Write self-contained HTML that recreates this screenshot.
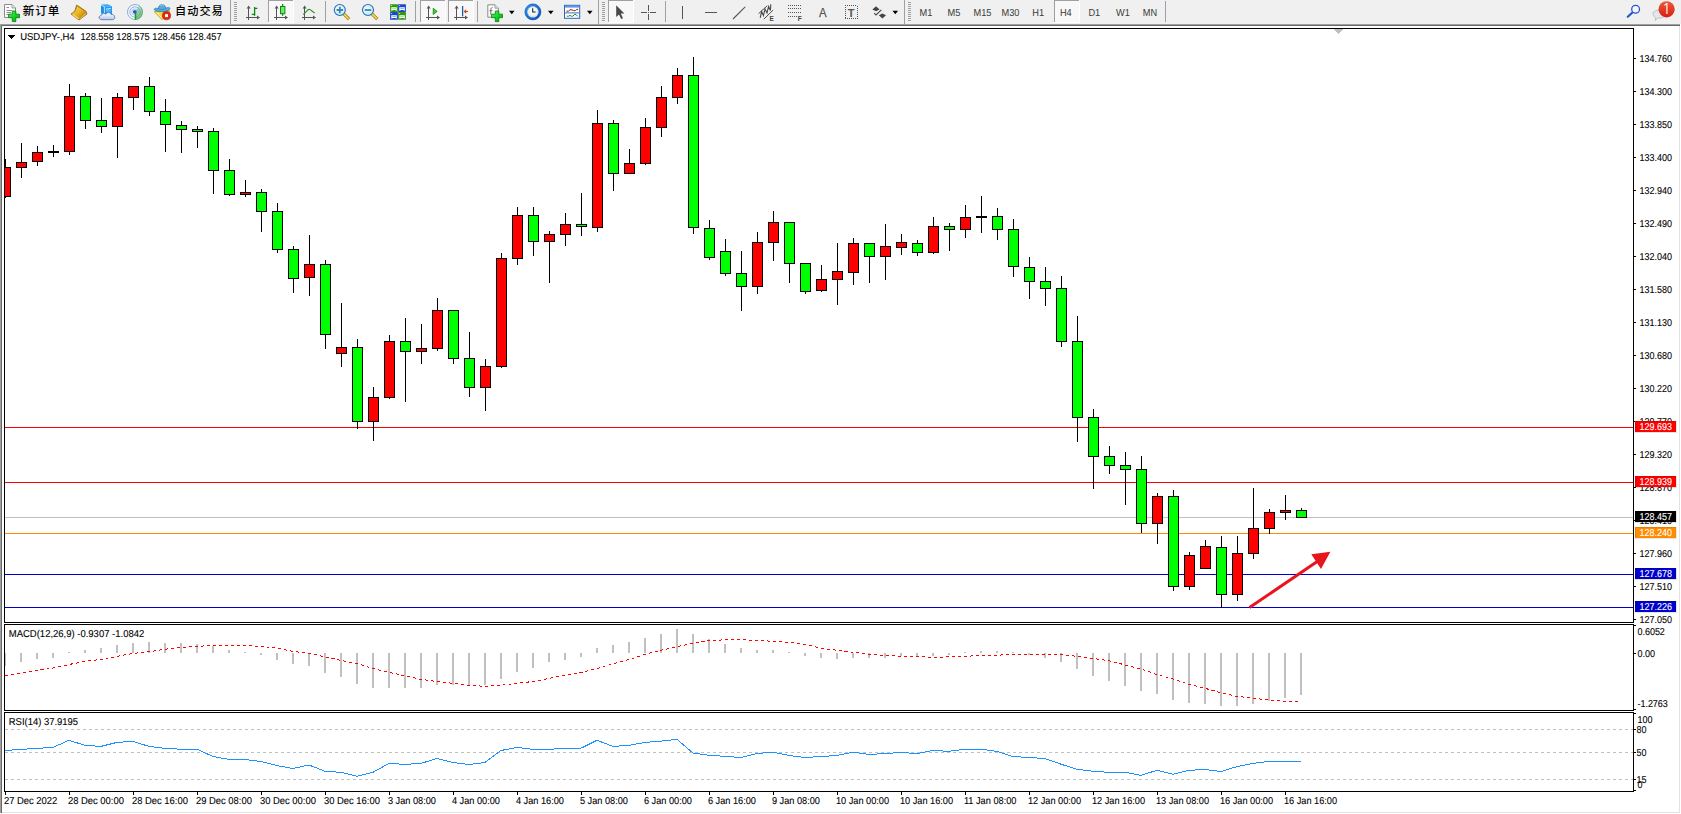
<!DOCTYPE html>
<html lang="zh-CN">
<head>
<meta charset="utf-8">
<title>USDJPY-,H4</title>
<style>
html,body{margin:0;padding:0;background:#f0f0f0;}
body{width:1681px;height:814px;overflow:hidden;position:relative;font-family:"Liberation Sans", sans-serif;}
svg{position:absolute;left:0;top:0;display:block;}
svg text{white-space:pre;}
</style>
</head>
<body>
<svg width="1681" height="814" viewBox="0 0 1681 814">
<defs>
<clipPath id="mainclip"><rect x="5" y="29" width="1628" height="593"/></clipPath>
<clipPath id="macdclip"><rect x="5" y="625" width="1628" height="85"/></clipPath>
</defs>
<g shape-rendering="crispEdges">
<rect x="0" y="0" width="1681" height="814" fill="#f0f0f0"/>
<rect x="0" y="24" width="1680" height="1" fill="#a0a0a0"/>
<rect x="0" y="24" width="1" height="789" fill="#a0a0a0"/>
<rect x="1" y="25" width="1679" height="1" fill="#696969"/>
<rect x="1" y="25" width="1" height="788" fill="#696969"/>
<rect x="2" y="26" width="1678" height="787" fill="#ffffff"/>
<rect x="1679" y="26" width="1" height="787" fill="#e3e3e3"/>
<rect x="2" y="812" width="1678" height="1" fill="#e3e3e3"/>
<rect x="1680" y="24" width="1" height="790" fill="#ffffff"/>
<rect x="0" y="813" width="1681" height="1" fill="#ffffff"/>
</g>
<g shape-rendering="crispEdges">
<rect x="5" y="517" width="1628" height="1" fill="#c0c0c0"/>
<rect x="5" y="427" width="1628" height="1" fill="#ff0000"/>
<rect x="5" y="482" width="1628" height="1" fill="#ff0000"/>
<rect x="5" y="533" width="1628" height="1" fill="#ff8c00"/>
<rect x="5" y="574" width="1628" height="1" fill="#0000cd"/>
<rect x="5" y="607" width="1628" height="1" fill="#0000cd"/>
<g clip-path="url(#mainclip)">
<rect x="5" y="159" width="1" height="39" fill="#000"/>
<rect x="0" y="167" width="11" height="30" fill="#000"/>
<rect x="1" y="168" width="9" height="28" fill="#ff0000"/>
<rect x="21" y="143" width="1" height="35" fill="#000"/>
<rect x="16" y="162" width="11" height="6" fill="#000"/>
<rect x="17" y="163" width="9" height="4" fill="#ff0000"/>
<rect x="37" y="146" width="1" height="20" fill="#000"/>
<rect x="32" y="152" width="11" height="10" fill="#000"/>
<rect x="33" y="153" width="9" height="8" fill="#ff0000"/>
<rect x="53" y="145" width="1" height="12" fill="#000"/>
<rect x="48" y="151" width="11" height="2" fill="#000"/>
<rect x="69" y="84" width="1" height="71" fill="#000"/>
<rect x="64" y="96" width="11" height="56" fill="#000"/>
<rect x="65" y="97" width="9" height="54" fill="#ff0000"/>
<rect x="85" y="93" width="1" height="36" fill="#000"/>
<rect x="80" y="96" width="11" height="25" fill="#000"/>
<rect x="81" y="97" width="9" height="23" fill="#00ff00"/>
<rect x="101" y="98" width="1" height="35" fill="#000"/>
<rect x="96" y="120" width="11" height="7" fill="#000"/>
<rect x="97" y="121" width="9" height="5" fill="#00ff00"/>
<rect x="117" y="93" width="1" height="65" fill="#000"/>
<rect x="112" y="97" width="11" height="30" fill="#000"/>
<rect x="113" y="98" width="9" height="28" fill="#ff0000"/>
<rect x="133" y="86" width="1" height="24" fill="#000"/>
<rect x="128" y="86" width="11" height="12" fill="#000"/>
<rect x="129" y="87" width="9" height="10" fill="#ff0000"/>
<rect x="149" y="77" width="1" height="39" fill="#000"/>
<rect x="144" y="86" width="11" height="26" fill="#000"/>
<rect x="145" y="87" width="9" height="24" fill="#00ff00"/>
<rect x="165" y="99" width="1" height="53" fill="#000"/>
<rect x="160" y="111" width="11" height="14" fill="#000"/>
<rect x="161" y="112" width="9" height="12" fill="#00ff00"/>
<rect x="181" y="121" width="1" height="32" fill="#000"/>
<rect x="176" y="125" width="11" height="5" fill="#000"/>
<rect x="177" y="126" width="9" height="3" fill="#00ff00"/>
<rect x="197" y="126" width="1" height="22" fill="#000"/>
<rect x="192" y="129" width="11" height="3" fill="#000"/>
<rect x="193" y="130" width="9" height="1" fill="#00ff00"/>
<rect x="213" y="128" width="1" height="66" fill="#000"/>
<rect x="208" y="131" width="11" height="40" fill="#000"/>
<rect x="209" y="132" width="9" height="38" fill="#00ff00"/>
<rect x="229" y="159" width="1" height="37" fill="#000"/>
<rect x="224" y="170" width="11" height="25" fill="#000"/>
<rect x="225" y="171" width="9" height="23" fill="#00ff00"/>
<rect x="245" y="180" width="1" height="17" fill="#000"/>
<rect x="240" y="192" width="11" height="3" fill="#000"/>
<rect x="241" y="193" width="9" height="1" fill="#ff0000"/>
<rect x="261" y="189" width="1" height="43" fill="#000"/>
<rect x="256" y="192" width="11" height="20" fill="#000"/>
<rect x="257" y="193" width="9" height="18" fill="#00ff00"/>
<rect x="277" y="203" width="1" height="50" fill="#000"/>
<rect x="272" y="211" width="11" height="39" fill="#000"/>
<rect x="273" y="212" width="9" height="37" fill="#00ff00"/>
<rect x="293" y="246" width="1" height="47" fill="#000"/>
<rect x="288" y="249" width="11" height="30" fill="#000"/>
<rect x="289" y="250" width="9" height="28" fill="#00ff00"/>
<rect x="309" y="235" width="1" height="61" fill="#000"/>
<rect x="304" y="264" width="11" height="14" fill="#000"/>
<rect x="305" y="265" width="9" height="12" fill="#ff0000"/>
<rect x="325" y="260" width="1" height="89" fill="#000"/>
<rect x="320" y="264" width="11" height="71" fill="#000"/>
<rect x="321" y="265" width="9" height="69" fill="#00ff00"/>
<rect x="341" y="303" width="1" height="64" fill="#000"/>
<rect x="336" y="347" width="11" height="7" fill="#000"/>
<rect x="337" y="348" width="9" height="5" fill="#ff0000"/>
<rect x="357" y="339" width="1" height="90" fill="#000"/>
<rect x="352" y="347" width="11" height="75" fill="#000"/>
<rect x="353" y="348" width="9" height="73" fill="#00ff00"/>
<rect x="373" y="387" width="1" height="54" fill="#000"/>
<rect x="368" y="397" width="11" height="25" fill="#000"/>
<rect x="369" y="398" width="9" height="23" fill="#ff0000"/>
<rect x="389" y="335" width="1" height="64" fill="#000"/>
<rect x="384" y="341" width="11" height="57" fill="#000"/>
<rect x="385" y="342" width="9" height="55" fill="#ff0000"/>
<rect x="405" y="318" width="1" height="84" fill="#000"/>
<rect x="400" y="341" width="11" height="11" fill="#000"/>
<rect x="401" y="342" width="9" height="9" fill="#00ff00"/>
<rect x="421" y="324" width="1" height="40" fill="#000"/>
<rect x="416" y="348" width="11" height="4" fill="#000"/>
<rect x="417" y="349" width="9" height="2" fill="#ff0000"/>
<rect x="437" y="298" width="1" height="53" fill="#000"/>
<rect x="432" y="310" width="11" height="39" fill="#000"/>
<rect x="433" y="311" width="9" height="37" fill="#ff0000"/>
<rect x="453" y="310" width="1" height="54" fill="#000"/>
<rect x="448" y="310" width="11" height="49" fill="#000"/>
<rect x="449" y="311" width="9" height="47" fill="#00ff00"/>
<rect x="469" y="332" width="1" height="65" fill="#000"/>
<rect x="464" y="358" width="11" height="30" fill="#000"/>
<rect x="465" y="359" width="9" height="28" fill="#00ff00"/>
<rect x="485" y="359" width="1" height="52" fill="#000"/>
<rect x="480" y="366" width="11" height="22" fill="#000"/>
<rect x="481" y="367" width="9" height="20" fill="#ff0000"/>
<rect x="501" y="253" width="1" height="115" fill="#000"/>
<rect x="496" y="258" width="11" height="109" fill="#000"/>
<rect x="497" y="259" width="9" height="107" fill="#ff0000"/>
<rect x="517" y="207" width="1" height="58" fill="#000"/>
<rect x="512" y="215" width="11" height="44" fill="#000"/>
<rect x="513" y="216" width="9" height="42" fill="#ff0000"/>
<rect x="533" y="207" width="1" height="49" fill="#000"/>
<rect x="528" y="215" width="11" height="27" fill="#000"/>
<rect x="529" y="216" width="9" height="25" fill="#00ff00"/>
<rect x="549" y="231" width="1" height="52" fill="#000"/>
<rect x="544" y="234" width="11" height="8" fill="#000"/>
<rect x="545" y="235" width="9" height="6" fill="#ff0000"/>
<rect x="565" y="213" width="1" height="33" fill="#000"/>
<rect x="560" y="224" width="11" height="11" fill="#000"/>
<rect x="561" y="225" width="9" height="9" fill="#ff0000"/>
<rect x="581" y="193" width="1" height="43" fill="#000"/>
<rect x="576" y="224" width="11" height="3" fill="#000"/>
<rect x="577" y="225" width="9" height="1" fill="#00ff00"/>
<rect x="597" y="110" width="1" height="122" fill="#000"/>
<rect x="592" y="123" width="11" height="105" fill="#000"/>
<rect x="593" y="124" width="9" height="103" fill="#ff0000"/>
<rect x="613" y="120" width="1" height="71" fill="#000"/>
<rect x="608" y="123" width="11" height="51" fill="#000"/>
<rect x="609" y="124" width="9" height="49" fill="#00ff00"/>
<rect x="629" y="149" width="1" height="25" fill="#000"/>
<rect x="624" y="163" width="11" height="11" fill="#000"/>
<rect x="625" y="164" width="9" height="9" fill="#ff0000"/>
<rect x="645" y="118" width="1" height="47" fill="#000"/>
<rect x="640" y="127" width="11" height="37" fill="#000"/>
<rect x="641" y="128" width="9" height="35" fill="#ff0000"/>
<rect x="661" y="86" width="1" height="51" fill="#000"/>
<rect x="656" y="97" width="11" height="31" fill="#000"/>
<rect x="657" y="98" width="9" height="29" fill="#ff0000"/>
<rect x="677" y="68" width="1" height="36" fill="#000"/>
<rect x="672" y="75" width="11" height="23" fill="#000"/>
<rect x="673" y="76" width="9" height="21" fill="#ff0000"/>
<rect x="693" y="57" width="1" height="177" fill="#000"/>
<rect x="688" y="75" width="11" height="153" fill="#000"/>
<rect x="689" y="76" width="9" height="151" fill="#00ff00"/>
<rect x="709" y="220" width="1" height="40" fill="#000"/>
<rect x="704" y="228" width="11" height="30" fill="#000"/>
<rect x="705" y="229" width="9" height="28" fill="#00ff00"/>
<rect x="725" y="239" width="1" height="37" fill="#000"/>
<rect x="720" y="251" width="11" height="23" fill="#000"/>
<rect x="721" y="252" width="9" height="21" fill="#00ff00"/>
<rect x="741" y="251" width="1" height="60" fill="#000"/>
<rect x="736" y="273" width="11" height="14" fill="#000"/>
<rect x="737" y="274" width="9" height="12" fill="#00ff00"/>
<rect x="757" y="232" width="1" height="62" fill="#000"/>
<rect x="752" y="242" width="11" height="45" fill="#000"/>
<rect x="753" y="243" width="9" height="43" fill="#ff0000"/>
<rect x="773" y="211" width="1" height="50" fill="#000"/>
<rect x="768" y="222" width="11" height="21" fill="#000"/>
<rect x="769" y="223" width="9" height="19" fill="#ff0000"/>
<rect x="789" y="222" width="1" height="61" fill="#000"/>
<rect x="784" y="222" width="11" height="42" fill="#000"/>
<rect x="785" y="223" width="9" height="40" fill="#00ff00"/>
<rect x="805" y="263" width="1" height="31" fill="#000"/>
<rect x="800" y="263" width="11" height="29" fill="#000"/>
<rect x="801" y="264" width="9" height="27" fill="#00ff00"/>
<rect x="821" y="265" width="1" height="27" fill="#000"/>
<rect x="816" y="279" width="11" height="12" fill="#000"/>
<rect x="817" y="280" width="9" height="10" fill="#ff0000"/>
<rect x="837" y="243" width="1" height="62" fill="#000"/>
<rect x="832" y="271" width="11" height="9" fill="#000"/>
<rect x="833" y="272" width="9" height="7" fill="#ff0000"/>
<rect x="853" y="238" width="1" height="47" fill="#000"/>
<rect x="848" y="243" width="11" height="30" fill="#000"/>
<rect x="849" y="244" width="9" height="28" fill="#ff0000"/>
<rect x="869" y="243" width="1" height="40" fill="#000"/>
<rect x="864" y="243" width="11" height="14" fill="#000"/>
<rect x="865" y="244" width="9" height="12" fill="#00ff00"/>
<rect x="885" y="224" width="1" height="56" fill="#000"/>
<rect x="880" y="246" width="11" height="11" fill="#000"/>
<rect x="881" y="247" width="9" height="9" fill="#ff0000"/>
<rect x="901" y="234" width="1" height="21" fill="#000"/>
<rect x="896" y="242" width="11" height="6" fill="#000"/>
<rect x="897" y="243" width="9" height="4" fill="#ff0000"/>
<rect x="917" y="240" width="1" height="16" fill="#000"/>
<rect x="912" y="243" width="11" height="10" fill="#000"/>
<rect x="913" y="244" width="9" height="8" fill="#00ff00"/>
<rect x="933" y="217" width="1" height="37" fill="#000"/>
<rect x="928" y="226" width="11" height="27" fill="#000"/>
<rect x="929" y="227" width="9" height="25" fill="#ff0000"/>
<rect x="949" y="223" width="1" height="28" fill="#000"/>
<rect x="944" y="226" width="11" height="4" fill="#000"/>
<rect x="945" y="227" width="9" height="2" fill="#00ff00"/>
<rect x="965" y="205" width="1" height="33" fill="#000"/>
<rect x="960" y="217" width="11" height="13" fill="#000"/>
<rect x="961" y="218" width="9" height="11" fill="#ff0000"/>
<rect x="981" y="196" width="1" height="37" fill="#000"/>
<rect x="976" y="216" width="11" height="2" fill="#000"/>
<rect x="997" y="208" width="1" height="32" fill="#000"/>
<rect x="992" y="216" width="11" height="14" fill="#000"/>
<rect x="993" y="217" width="9" height="12" fill="#00ff00"/>
<rect x="1013" y="219" width="1" height="58" fill="#000"/>
<rect x="1008" y="229" width="11" height="38" fill="#000"/>
<rect x="1009" y="230" width="9" height="36" fill="#00ff00"/>
<rect x="1029" y="257" width="1" height="42" fill="#000"/>
<rect x="1024" y="267" width="11" height="15" fill="#000"/>
<rect x="1025" y="268" width="9" height="13" fill="#00ff00"/>
<rect x="1045" y="267" width="1" height="39" fill="#000"/>
<rect x="1040" y="281" width="11" height="8" fill="#000"/>
<rect x="1041" y="282" width="9" height="6" fill="#00ff00"/>
<rect x="1061" y="276" width="1" height="71" fill="#000"/>
<rect x="1056" y="288" width="11" height="54" fill="#000"/>
<rect x="1057" y="289" width="9" height="52" fill="#00ff00"/>
<rect x="1077" y="316" width="1" height="126" fill="#000"/>
<rect x="1072" y="341" width="11" height="77" fill="#000"/>
<rect x="1073" y="342" width="9" height="75" fill="#00ff00"/>
<rect x="1093" y="409" width="1" height="80" fill="#000"/>
<rect x="1088" y="417" width="11" height="40" fill="#000"/>
<rect x="1089" y="418" width="9" height="38" fill="#00ff00"/>
<rect x="1109" y="446" width="1" height="28" fill="#000"/>
<rect x="1104" y="456" width="11" height="10" fill="#000"/>
<rect x="1105" y="457" width="9" height="8" fill="#00ff00"/>
<rect x="1125" y="452" width="1" height="53" fill="#000"/>
<rect x="1120" y="465" width="11" height="5" fill="#000"/>
<rect x="1121" y="466" width="9" height="3" fill="#00ff00"/>
<rect x="1141" y="456" width="1" height="77" fill="#000"/>
<rect x="1136" y="469" width="11" height="55" fill="#000"/>
<rect x="1137" y="470" width="9" height="53" fill="#00ff00"/>
<rect x="1157" y="493" width="1" height="51" fill="#000"/>
<rect x="1152" y="496" width="11" height="28" fill="#000"/>
<rect x="1153" y="497" width="9" height="26" fill="#ff0000"/>
<rect x="1173" y="490" width="1" height="101" fill="#000"/>
<rect x="1168" y="496" width="11" height="91" fill="#000"/>
<rect x="1169" y="497" width="9" height="89" fill="#00ff00"/>
<rect x="1189" y="552" width="1" height="38" fill="#000"/>
<rect x="1184" y="555" width="11" height="32" fill="#000"/>
<rect x="1185" y="556" width="9" height="30" fill="#ff0000"/>
<rect x="1205" y="540" width="1" height="29" fill="#000"/>
<rect x="1200" y="546" width="11" height="23" fill="#000"/>
<rect x="1201" y="547" width="9" height="21" fill="#ff0000"/>
<rect x="1221" y="536" width="1" height="72" fill="#000"/>
<rect x="1216" y="547" width="11" height="48" fill="#000"/>
<rect x="1217" y="548" width="9" height="46" fill="#00ff00"/>
<rect x="1237" y="536" width="1" height="65" fill="#000"/>
<rect x="1232" y="553" width="11" height="42" fill="#000"/>
<rect x="1233" y="554" width="9" height="40" fill="#ff0000"/>
<rect x="1253" y="488" width="1" height="71" fill="#000"/>
<rect x="1248" y="528" width="11" height="26" fill="#000"/>
<rect x="1249" y="529" width="9" height="24" fill="#ff0000"/>
<rect x="1269" y="509" width="1" height="25" fill="#000"/>
<rect x="1264" y="512" width="11" height="17" fill="#000"/>
<rect x="1265" y="513" width="9" height="15" fill="#ff0000"/>
<rect x="1285" y="495" width="1" height="25" fill="#000"/>
<rect x="1280" y="510" width="11" height="3" fill="#000"/>
<rect x="1281" y="511" width="9" height="1" fill="#ff0000"/>
<rect x="1301" y="508" width="1" height="10" fill="#000"/>
<rect x="1296" y="510" width="11" height="8" fill="#000"/>
<rect x="1297" y="511" width="9" height="6" fill="#00ff00"/>
</g>
<rect x="1334" y="29" width="9" height="1" fill="#c0c0c0"/>
<rect x="1335" y="30" width="7" height="1" fill="#c0c0c0"/>
<rect x="1336" y="31" width="5" height="1" fill="#c0c0c0"/>
<rect x="1337" y="32" width="3" height="1" fill="#c0c0c0"/>
<rect x="1338" y="33" width="1" height="1" fill="#c0c0c0"/>
<rect x="4" y="653" width="2" height="13" fill="#c0c0c0" clip-path="url(#macdclip)"/>
<rect x="20" y="653" width="2" height="9" fill="#c0c0c0" clip-path="url(#macdclip)"/>
<rect x="36" y="653" width="2" height="6" fill="#c0c0c0" clip-path="url(#macdclip)"/>
<rect x="52" y="653" width="2" height="5" fill="#c0c0c0" clip-path="url(#macdclip)"/>
<rect x="68" y="652" width="2" height="1" fill="#c0c0c0" clip-path="url(#macdclip)"/>
<rect x="84" y="650" width="2" height="3" fill="#c0c0c0" clip-path="url(#macdclip)"/>
<rect x="100" y="648" width="2" height="5" fill="#c0c0c0" clip-path="url(#macdclip)"/>
<rect x="116" y="645" width="2" height="8" fill="#c0c0c0" clip-path="url(#macdclip)"/>
<rect x="132" y="643" width="2" height="10" fill="#c0c0c0" clip-path="url(#macdclip)"/>
<rect x="148" y="642" width="2" height="11" fill="#c0c0c0" clip-path="url(#macdclip)"/>
<rect x="164" y="643" width="2" height="10" fill="#c0c0c0" clip-path="url(#macdclip)"/>
<rect x="180" y="643" width="2" height="10" fill="#c0c0c0" clip-path="url(#macdclip)"/>
<rect x="196" y="644" width="2" height="9" fill="#c0c0c0" clip-path="url(#macdclip)"/>
<rect x="212" y="646" width="2" height="7" fill="#c0c0c0" clip-path="url(#macdclip)"/>
<rect x="228" y="650" width="2" height="3" fill="#c0c0c0" clip-path="url(#macdclip)"/>
<rect x="244" y="652" width="2" height="1" fill="#c0c0c0" clip-path="url(#macdclip)"/>
<rect x="260" y="653" width="2" height="2" fill="#c0c0c0" clip-path="url(#macdclip)"/>
<rect x="276" y="653" width="2" height="7" fill="#c0c0c0" clip-path="url(#macdclip)"/>
<rect x="292" y="653" width="2" height="11" fill="#c0c0c0" clip-path="url(#macdclip)"/>
<rect x="308" y="653" width="2" height="13" fill="#c0c0c0" clip-path="url(#macdclip)"/>
<rect x="324" y="653" width="2" height="20" fill="#c0c0c0" clip-path="url(#macdclip)"/>
<rect x="340" y="653" width="2" height="24" fill="#c0c0c0" clip-path="url(#macdclip)"/>
<rect x="356" y="653" width="2" height="31" fill="#c0c0c0" clip-path="url(#macdclip)"/>
<rect x="372" y="653" width="2" height="35" fill="#c0c0c0" clip-path="url(#macdclip)"/>
<rect x="388" y="653" width="2" height="35" fill="#c0c0c0" clip-path="url(#macdclip)"/>
<rect x="404" y="653" width="2" height="35" fill="#c0c0c0" clip-path="url(#macdclip)"/>
<rect x="420" y="653" width="2" height="35" fill="#c0c0c0" clip-path="url(#macdclip)"/>
<rect x="436" y="653" width="2" height="32" fill="#c0c0c0" clip-path="url(#macdclip)"/>
<rect x="452" y="653" width="2" height="32" fill="#c0c0c0" clip-path="url(#macdclip)"/>
<rect x="468" y="653" width="2" height="33" fill="#c0c0c0" clip-path="url(#macdclip)"/>
<rect x="484" y="653" width="2" height="32" fill="#c0c0c0" clip-path="url(#macdclip)"/>
<rect x="500" y="653" width="2" height="26" fill="#c0c0c0" clip-path="url(#macdclip)"/>
<rect x="516" y="653" width="2" height="19" fill="#c0c0c0" clip-path="url(#macdclip)"/>
<rect x="532" y="653" width="2" height="15" fill="#c0c0c0" clip-path="url(#macdclip)"/>
<rect x="548" y="653" width="2" height="9" fill="#c0c0c0" clip-path="url(#macdclip)"/>
<rect x="564" y="653" width="2" height="7" fill="#c0c0c0" clip-path="url(#macdclip)"/>
<rect x="580" y="653" width="2" height="4" fill="#c0c0c0" clip-path="url(#macdclip)"/>
<rect x="596" y="648" width="2" height="5" fill="#c0c0c0" clip-path="url(#macdclip)"/>
<rect x="612" y="645" width="2" height="8" fill="#c0c0c0" clip-path="url(#macdclip)"/>
<rect x="628" y="642" width="2" height="11" fill="#c0c0c0" clip-path="url(#macdclip)"/>
<rect x="644" y="638" width="2" height="15" fill="#c0c0c0" clip-path="url(#macdclip)"/>
<rect x="660" y="634" width="2" height="19" fill="#c0c0c0" clip-path="url(#macdclip)"/>
<rect x="676" y="629" width="2" height="24" fill="#c0c0c0" clip-path="url(#macdclip)"/>
<rect x="692" y="634" width="2" height="19" fill="#c0c0c0" clip-path="url(#macdclip)"/>
<rect x="708" y="639" width="2" height="14" fill="#c0c0c0" clip-path="url(#macdclip)"/>
<rect x="724" y="644" width="2" height="9" fill="#c0c0c0" clip-path="url(#macdclip)"/>
<rect x="740" y="648" width="2" height="5" fill="#c0c0c0" clip-path="url(#macdclip)"/>
<rect x="756" y="650" width="2" height="3" fill="#c0c0c0" clip-path="url(#macdclip)"/>
<rect x="772" y="650" width="2" height="3" fill="#c0c0c0" clip-path="url(#macdclip)"/>
<rect x="788" y="652" width="2" height="1" fill="#c0c0c0" clip-path="url(#macdclip)"/>
<rect x="804" y="653" width="2" height="3" fill="#c0c0c0" clip-path="url(#macdclip)"/>
<rect x="820" y="653" width="2" height="5" fill="#c0c0c0" clip-path="url(#macdclip)"/>
<rect x="836" y="653" width="2" height="6" fill="#c0c0c0" clip-path="url(#macdclip)"/>
<rect x="852" y="653" width="2" height="5" fill="#c0c0c0" clip-path="url(#macdclip)"/>
<rect x="868" y="653" width="2" height="5" fill="#c0c0c0" clip-path="url(#macdclip)"/>
<rect x="884" y="653" width="2" height="5" fill="#c0c0c0" clip-path="url(#macdclip)"/>
<rect x="900" y="653" width="2" height="3" fill="#c0c0c0" clip-path="url(#macdclip)"/>
<rect x="916" y="653" width="2" height="3" fill="#c0c0c0" clip-path="url(#macdclip)"/>
<rect x="932" y="653" width="2" height="3" fill="#c0c0c0" clip-path="url(#macdclip)"/>
<rect x="948" y="653" width="2" height="2" fill="#c0c0c0" clip-path="url(#macdclip)"/>
<rect x="964" y="652" width="2" height="1" fill="#c0c0c0" clip-path="url(#macdclip)"/>
<rect x="980" y="651" width="2" height="2" fill="#c0c0c0" clip-path="url(#macdclip)"/>
<rect x="996" y="651" width="2" height="2" fill="#c0c0c0" clip-path="url(#macdclip)"/>
<rect x="1012" y="652" width="2" height="1" fill="#c0c0c0" clip-path="url(#macdclip)"/>
<rect x="1028" y="653" width="2" height="2" fill="#c0c0c0" clip-path="url(#macdclip)"/>
<rect x="1044" y="653" width="2" height="5" fill="#c0c0c0" clip-path="url(#macdclip)"/>
<rect x="1060" y="653" width="2" height="9" fill="#c0c0c0" clip-path="url(#macdclip)"/>
<rect x="1076" y="653" width="2" height="16" fill="#c0c0c0" clip-path="url(#macdclip)"/>
<rect x="1092" y="653" width="2" height="23" fill="#c0c0c0" clip-path="url(#macdclip)"/>
<rect x="1108" y="653" width="2" height="28" fill="#c0c0c0" clip-path="url(#macdclip)"/>
<rect x="1124" y="653" width="2" height="33" fill="#c0c0c0" clip-path="url(#macdclip)"/>
<rect x="1140" y="653" width="2" height="38" fill="#c0c0c0" clip-path="url(#macdclip)"/>
<rect x="1156" y="653" width="2" height="41" fill="#c0c0c0" clip-path="url(#macdclip)"/>
<rect x="1172" y="653" width="2" height="47" fill="#c0c0c0" clip-path="url(#macdclip)"/>
<rect x="1188" y="653" width="2" height="50" fill="#c0c0c0" clip-path="url(#macdclip)"/>
<rect x="1204" y="653" width="2" height="51" fill="#c0c0c0" clip-path="url(#macdclip)"/>
<rect x="1220" y="653" width="2" height="53" fill="#c0c0c0" clip-path="url(#macdclip)"/>
<rect x="1236" y="653" width="2" height="53" fill="#c0c0c0" clip-path="url(#macdclip)"/>
<rect x="1252" y="653" width="2" height="51" fill="#c0c0c0" clip-path="url(#macdclip)"/>
<rect x="1268" y="653" width="2" height="48" fill="#c0c0c0" clip-path="url(#macdclip)"/>
<rect x="1284" y="653" width="2" height="45" fill="#c0c0c0" clip-path="url(#macdclip)"/>
<rect x="1300" y="653" width="2" height="42" fill="#c0c0c0" clip-path="url(#macdclip)"/>
<path d="M5 729.5H1633" stroke="#c0c0c0" stroke-width="1" stroke-dasharray="3 3" fill="none"/>
<path d="M5 752.5H1633" stroke="#c0c0c0" stroke-width="1" stroke-dasharray="3 3" fill="none"/>
<path d="M5 779.5H1633" stroke="#c0c0c0" stroke-width="1" stroke-dasharray="3 3" fill="none"/>
</g>
<polyline points="5,675.6 21,673 37,670.5 53,668.1 69,664.5 85,661.4 101,659.4 117,656.4 133,653.4 149,651.7 165,649.3 181,647.3 197,646.3 213,645.5 229,645.5 245,645.5 261,646.3 277,648.3 293,651.3 309,653.4 325,656.8 341,660.4 357,663.5 373,668.5 389,672.4 405,675.8 421,679.4 437,681.5 453,683.3 469,685.3 485,686.3 501,685.3 517,683.3 533,681.5 549,678.4 565,675.4 581,672.6 597,668.5 613,663.7 629,659.6 645,654.4 661,650.3 677,646.7 693,643.2 709,640.6 725,639.8 741,639.6 757,640.6 773,641.2 789,642.4 805,644.2 821,648.3 837,650.3 853,652.3 869,654.2 885,655.4 901,656.4 917,656.6 933,657.4 949,656.8 965,656.4 981,655.4 997,655.2 1013,654.4 1029,654.4 1045,654.4 1061,654.4 1077,656.4 1093,658.4 1109,660.8 1125,664.9 1141,668.9 1157,674.6 1173,679 1189,684.3 1205,688.3 1221,692.8 1237,696.4 1253,698.1 1269,700.1 1285,701.3 1299,701.5" fill="none" stroke="#ff0000" stroke-width="1" stroke-dasharray="3 3" shape-rendering="crispEdges"/>
<polyline points="5,750.5 21,749.4 37,748.4 53,747.4 69,740.3 85,745.4 101,746.4 117,742.4 133,741.4 149,746.4 165,748.4 181,749.2 197,749.2 213,756.5 229,759.4 245,759.4 261,761.6 277,765.6 293,768.5 309,765 325,771.3 341,772.3 357,776.3 373,772.3 389,763.4 405,764.4 421,763.4 437,758.5 453,762.4 469,764.6 485,762.4 501,750.5 517,747.4 533,749.4 549,749.4 565,748.2 581,748.2 597,740.3 613,746.4 629,745.4 645,742.4 661,741.1 677,739.3 693,753.1 709,755.3 725,756.3 741,757.5 757,753.5 773,752.1 789,755.5 805,757.5 821,756.5 837,755.5 853,752.1 869,754.5 885,753.5 901,752.5 917,753.5 933,750.5 949,751.3 965,749.2 981,749.2 997,751.5 1013,756.5 1029,757.5 1045,758.5 1061,764.2 1077,769.3 1093,771.3 1109,772.3 1125,772.3 1141,775.3 1157,770.3 1173,774.3 1189,770.3 1205,769.5 1221,771.5 1237,766.6 1253,763.4 1269,761.4 1285,761.4 1301,761.4" fill="none" stroke="#1e90ff" stroke-width="1" shape-rendering="crispEdges"/>
<path d="M1249.5 607.5L1318 561" stroke="#e8151d" stroke-width="3" fill="none"/>
<path d="M1311.3 554.3L1330.4 551.8L1321 569Z" fill="#e8151d"/>
<g shape-rendering="crispEdges" fill="none" stroke="#000" stroke-width="1">
<rect x="4.5" y="28.5" width="1629" height="594"/>
<rect x="4.5" y="624.5" width="1629" height="86"/>
<rect x="4.5" y="712.5" width="1629" height="79"/>
</g>
<g shape-rendering="crispEdges">
<rect x="1634" y="58" width="2" height="1" fill="#000"/>
<rect x="1634" y="91" width="2" height="1" fill="#000"/>
<rect x="1634" y="124" width="2" height="1" fill="#000"/>
<rect x="1634" y="157" width="2" height="1" fill="#000"/>
<rect x="1634" y="190" width="2" height="1" fill="#000"/>
<rect x="1634" y="223" width="2" height="1" fill="#000"/>
<rect x="1634" y="256" width="2" height="1" fill="#000"/>
<rect x="1634" y="289" width="2" height="1" fill="#000"/>
<rect x="1634" y="322" width="2" height="1" fill="#000"/>
<rect x="1634" y="355" width="2" height="1" fill="#000"/>
<rect x="1634" y="388" width="2" height="1" fill="#000"/>
<rect x="1634" y="421" width="2" height="1" fill="#000"/>
<rect x="1634" y="454" width="2" height="1" fill="#000"/>
<rect x="1634" y="487" width="2" height="1" fill="#000"/>
<rect x="1634" y="520" width="2" height="1" fill="#000"/>
<rect x="1634" y="553" width="2" height="1" fill="#000"/>
<rect x="1634" y="586" width="2" height="1" fill="#000"/>
<rect x="1634" y="619" width="2" height="1" fill="#000"/>
<rect x="1634" y="625" width="2" height="1" fill="#000"/>
<rect x="1634" y="653" width="2" height="1" fill="#000"/>
<rect x="1634" y="709" width="2" height="1" fill="#000"/>
<rect x="1634" y="713" width="2" height="1" fill="#000"/>
<rect x="1634" y="729" width="2" height="1" fill="#000"/>
<rect x="1634" y="752" width="2" height="1" fill="#000"/>
<rect x="1634" y="779" width="2" height="1" fill="#000"/>
<rect x="1634" y="790" width="2" height="1" fill="#000"/>
<rect x="5" y="792" width="1" height="3" fill="#000"/>
<rect x="69" y="792" width="1" height="3" fill="#000"/>
<rect x="133" y="792" width="1" height="3" fill="#000"/>
<rect x="197" y="792" width="1" height="3" fill="#000"/>
<rect x="261" y="792" width="1" height="3" fill="#000"/>
<rect x="325" y="792" width="1" height="3" fill="#000"/>
<rect x="389" y="792" width="1" height="3" fill="#000"/>
<rect x="453" y="792" width="1" height="3" fill="#000"/>
<rect x="517" y="792" width="1" height="3" fill="#000"/>
<rect x="581" y="792" width="1" height="3" fill="#000"/>
<rect x="645" y="792" width="1" height="3" fill="#000"/>
<rect x="709" y="792" width="1" height="3" fill="#000"/>
<rect x="773" y="792" width="1" height="3" fill="#000"/>
<rect x="837" y="792" width="1" height="3" fill="#000"/>
<rect x="901" y="792" width="1" height="3" fill="#000"/>
<rect x="965" y="792" width="1" height="3" fill="#000"/>
<rect x="1029" y="792" width="1" height="3" fill="#000"/>
<rect x="1093" y="792" width="1" height="3" fill="#000"/>
<rect x="1157" y="792" width="1" height="3" fill="#000"/>
<rect x="1221" y="792" width="1" height="3" fill="#000"/>
<rect x="1285" y="792" width="1" height="3" fill="#000"/>
</g>
<g font-family='"Liberation Sans", sans-serif' font-size="10" text-rendering="geometricPrecision" stroke="#000" stroke-width=".1">
<text transform="translate(1639.6 61.9) scale(0.898 1)">134.760</text>
<text transform="translate(1639.6 94.9) scale(0.898 1)">134.300</text>
<text transform="translate(1639.6 127.9) scale(0.898 1)">133.850</text>
<text transform="translate(1639.6 160.9) scale(0.898 1)">133.400</text>
<text transform="translate(1639.6 193.9) scale(0.898 1)">132.940</text>
<text transform="translate(1639.6 226.9) scale(0.898 1)">132.490</text>
<text transform="translate(1639.6 259.9) scale(0.898 1)">132.040</text>
<text transform="translate(1639.6 292.9) scale(0.898 1)">131.580</text>
<text transform="translate(1639.6 325.9) scale(0.898 1)">131.130</text>
<text transform="translate(1639.6 358.9) scale(0.898 1)">130.680</text>
<text transform="translate(1639.6 391.9) scale(0.898 1)">130.220</text>
<text transform="translate(1639.6 424.9) scale(0.898 1)">129.770</text>
<text transform="translate(1639.6 457.9) scale(0.898 1)">129.320</text>
<text transform="translate(1639.6 490.9) scale(0.898 1)">128.870</text>
<text transform="translate(1639.6 523.9) scale(0.898 1)">128.410</text>
<text transform="translate(1639.6 556.9) scale(0.898 1)">127.960</text>
<text transform="translate(1639.6 589.9) scale(0.898 1)">127.510</text>
<text transform="translate(1639.6 622.9) scale(0.898 1)">127.050</text>
<g shape-rendering="crispEdges">
<rect x="1635" y="421" width="41" height="11" fill="#ff0000"/>
<rect x="1635" y="476" width="41" height="11" fill="#ff0000"/>
<rect x="1635" y="511" width="41" height="11" fill="#000000"/>
<rect x="1635" y="527" width="41" height="11" fill="#ff8c00"/>
<rect x="1635" y="568" width="41" height="11" fill="#0000cd"/>
<rect x="1635" y="601" width="41" height="11" fill="#0000cd"/>
</g>
<text transform="translate(1639.6 429.9) scale(0.898 1)" fill="#fff" stroke="#fff">129.693</text>
<text transform="translate(1639.6 484.9) scale(0.898 1)" fill="#fff" stroke="#fff">128.939</text>
<text transform="translate(1639.6 519.9) scale(0.898 1)" fill="#fff" stroke="#fff">128.457</text>
<text transform="translate(1639.6 535.9) scale(0.898 1)" fill="#fff" stroke="#fff">128.240</text>
<text transform="translate(1639.6 576.9) scale(0.898 1)" fill="#fff" stroke="#fff">127.678</text>
<text transform="translate(1639.6 609.9) scale(0.898 1)" fill="#fff" stroke="#fff">127.226</text>
<text transform="translate(1637.4 634.9) scale(0.898 1)">0.6052</text>
<text transform="translate(1637.4 656.9) scale(0.898 1)">0.00</text>
<text transform="translate(1637.4 706.9) scale(0.898 1)">-1.2763</text>
<text transform="translate(1637.4 722.9) scale(0.898 1)">100</text>
<text transform="translate(1636.4 732.9) scale(0.898 1)">80</text>
<text transform="translate(1636.4 755.9) scale(0.898 1)">50</text>
<text transform="translate(1636.6 782.9) scale(0.898 1)">15</text>
<text transform="translate(1637.4 787.9) scale(0.898 1)">0</text>
<text transform="translate(3.9 803.9) scale(0.941 1)">27 Dec 2022</text>
<text transform="translate(67.9 803.9) scale(0.941 1)">28 Dec 00:00</text>
<text transform="translate(131.9 803.9) scale(0.941 1)">28 Dec 16:00</text>
<text transform="translate(195.9 803.9) scale(0.941 1)">29 Dec 08:00</text>
<text transform="translate(259.9 803.9) scale(0.941 1)">30 Dec 00:00</text>
<text transform="translate(323.9 803.9) scale(0.941 1)">30 Dec 16:00</text>
<text transform="translate(387.9 803.9) scale(0.92 1)">3 Jan 08:00</text>
<text transform="translate(451.9 803.9) scale(0.92 1)">4 Jan 00:00</text>
<text transform="translate(515.9 803.9) scale(0.92 1)">4 Jan 16:00</text>
<text transform="translate(579.9 803.9) scale(0.92 1)">5 Jan 08:00</text>
<text transform="translate(643.9 803.9) scale(0.92 1)">6 Jan 00:00</text>
<text transform="translate(707.9 803.9) scale(0.92 1)">6 Jan 16:00</text>
<text transform="translate(771.9 803.9) scale(0.92 1)">9 Jan 08:00</text>
<text transform="translate(835.9 803.9) scale(0.92 1)">10 Jan 00:00</text>
<text transform="translate(899.9 803.9) scale(0.92 1)">10 Jan 16:00</text>
<text transform="translate(963.9 803.9) scale(0.92 1)">11 Jan 08:00</text>
<text transform="translate(1027.9 803.9) scale(0.92 1)">12 Jan 00:00</text>
<text transform="translate(1091.9 803.9) scale(0.92 1)">12 Jan 16:00</text>
<text transform="translate(1155.9 803.9) scale(0.92 1)">13 Jan 08:00</text>
<text transform="translate(1219.9 803.9) scale(0.92 1)">16 Jan 00:00</text>
<text transform="translate(1283.9 803.9) scale(0.92 1)">16 Jan 16:00</text>
<text transform="translate(20.2 39.9) scale(0.948 1)">USDJPY-,H4</text>
<text transform="translate(80.4 39.9) scale(0.923 1)">128.558 128.575 128.456 128.457</text>
<text transform="translate(8.8 636.9) scale(0.948 1)">MACD(12,26,9) -0.9307 -1.0842</text>
<text transform="translate(8.8 724.9) scale(0.944 1)">RSI(14) 37.9195</text>
</g>
<g shape-rendering="crispEdges">
<rect x="8" y="35" width="7" height="1" fill="#000"/>
<rect x="9" y="36" width="5" height="1" fill="#000"/>
<rect x="10" y="37" width="3" height="1" fill="#000"/>
<rect x="11" y="38" width="1" height="1" fill="#000"/>
</g>
<defs>
<linearGradient id="gGreen" x1="0" y1="0" x2="1" y2="1"><stop offset="0" stop-color="#6cf06c"/><stop offset=".5" stop-color="#12d62a"/><stop offset="1" stop-color="#0a9a0a"/></linearGradient>
<linearGradient id="gGold" x1="0" y1="0" x2="1" y2="1"><stop offset="0" stop-color="#f7dc6a"/><stop offset=".5" stop-color="#e9b31c"/><stop offset="1" stop-color="#b97d0c"/></linearGradient>
<linearGradient id="gBlue" x1="0" y1="0" x2="0" y2="1"><stop offset="0" stop-color="#5fb4f7"/><stop offset="1" stop-color="#1b6fd6"/></linearGradient>
<linearGradient id="gCloud" x1="0" y1="0" x2="0" y2="1"><stop offset="0" stop-color="#ffffff"/><stop offset="1" stop-color="#b9c9e6"/></linearGradient>
<radialGradient id="gLens" cx=".4" cy=".35" r=".7"><stop offset="0" stop-color="#f4fcff"/><stop offset="1" stop-color="#bfe8fa"/></radialGradient>
<radialGradient id="gClock" cx=".5" cy=".4" r=".6"><stop offset="0" stop-color="#ffffff"/><stop offset="1" stop-color="#dfe6ee"/></radialGradient>
<linearGradient id="gRed" x1="0" y1="0" x2="0" y2="1"><stop offset="0" stop-color="#ea5a3a"/><stop offset="1" stop-color="#d81e10"/></linearGradient>
<linearGradient id="gSig" x1="0" y1="0" x2="1" y2="1"><stop offset="0" stop-color="#2f62d9"/><stop offset=".55" stop-color="#3f8fd0"/><stop offset="1" stop-color="#2fa83a"/></linearGradient>
<linearGradient id="gSigG" x1="0" y1="0" x2=".6" y2="1"><stop offset="0" stop-color="#d8ecd8"/><stop offset="1" stop-color="#3aa843"/></linearGradient>
<linearGradient id="gRing" x1="0" y1="0" x2="1" y2="1"><stop offset="0" stop-color="#2f93f0"/><stop offset="1" stop-color="#0a50b8"/></linearGradient>
</defs>
<g><path d="M4.5 4.5H12L15.5 8V17.5H4.5Z" fill="#fdfdfd" stroke="#8a8a8a" stroke-width="1"/><path d="M12 4.5V8H15.5" fill="#e4e4e4" stroke="#8a8a8a" stroke-width=".8"/><path d="M6.5 7.5H9M6.5 10.5H12M6.5 12.5H11M6.5 14.5H9" stroke="#8c8c8c" stroke-width="1"/><path d="M12.3 11H15.8V14.2H19.5V17.7H15.8V21.6H12.3V17.7H8.6V14.2H12.3Z" fill="url(#gGreen)" stroke="#0a8a12" stroke-width=".9" stroke-linejoin="round"/></g>
<text x="22.8" y="14.7" font-family='"Liberation Sans", "Noto Sans CJK SC", sans-serif' font-size="11.6" font-weight="500" letter-spacing=".9" fill="#000">新订单</text>
<g stroke-linejoin="round"><path d="M76.7 5.1L86 11.3L87 14L79 20L71 14C73.4 12.6 74.8 11.4 75.3 9.7C75.8 8 76 6.4 76.7 5.1Z" fill="#c8901c" stroke="#a4690e" stroke-width=".9"/><path d="M77.1 6.4L85 11.5L79.4 18.8L72.8 13.4C74.6 12.2 75.8 11 76.3 9.4Z" fill="url(#gGold)"/><path d="M72.4 14.2L78.8 18.8" stroke="#f6e08a" stroke-width="1.1" fill="none"/><path d="M80.6 18.4L86.2 13.4" stroke="#e9d9a0" stroke-width=".8" fill="none"/></g>
<g><path d="M101 5L101 13.4L104.4 14V6.7Z" fill="#1990ee"/><path d="M101 4.6L107.7 4.2L112 6.3L104.4 6.8Z" fill="#3aa8fa"/><path d="M104.5 6.7L112 6.3V14H104.5Z" fill="#1e9bf5"/><path d="M101 4.8L104.4 6.8V13" stroke="#d9f0ff" stroke-width=".7" fill="none"/><path d="M106 9.2L110.8 8.6" stroke="#e6f5ff" stroke-width="1"/><path d="M106 11H110.8" stroke="#7ccbff" stroke-width="1"/><path d="M101.6 19.7C98.4 19.7 98.4 15.6 101.4 15.2C101.8 13 105 12.8 105.8 14.2C107 11.8 110.6 12 111 14.4C114.6 13.2 116.6 19.7 112.4 19.7Z" fill="url(#gCloud)" stroke="#4668aa" stroke-width=".8"/></g>
<g fill="none"><circle cx="135" cy="12" r="7.8" fill="#fbfbfd" opacity=".8"/><path d="M135 12V19.9A7.9 7.9 0 0 0 139 5.2Z" fill="url(#gSigG)" opacity=".75"/><circle cx="135" cy="12" r="7.5" stroke="url(#gSig)" stroke-width="1" opacity=".6"/><circle cx="135" cy="12" r="5.2" stroke="url(#gSig)" stroke-width="1" opacity=".55"/><circle cx="135" cy="12" r="3.2" stroke="url(#gSig)" stroke-width=".9" opacity=".45"/><path d="M135.5 12V19.7" stroke="#1f9a2d" stroke-width="1.5"/><circle cx="134.8" cy="11.8" r="1.9" fill="#2a55cc" stroke="none"/></g>
<g><path d="M154.2 11.6L170 11L162 19.7Z" fill="#f7d848" stroke="#c89a10" stroke-width=".8" stroke-linejoin="round"/><path d="M157 12.4L162 18.4" stroke="#fdf0a0" stroke-width="1" fill="none"/><path d="M158.4 8.6C158.6 3.4 165.2 3.2 165.8 8.2C168.4 7 171 7.8 169.6 9.4C166.6 12.2 157.6 12.4 154.6 10C153.2 8.6 155.8 7.6 158.4 8.6Z" fill="#58acdf" stroke="#2a7fb0" stroke-width=".8"/><path d="M158.6 8.8C160.6 9.8 164 9.6 165.8 8.4" stroke="#2a7fb0" stroke-width=".7" fill="none"/><path d="M160.4 5.6C161.4 4.6 163 4.6 164 5.4" stroke="#a8d8f4" stroke-width=".9" fill="none"/><circle cx="166.5" cy="15.7" r="4.1" fill="#e02a0c" stroke="#b81a0b" stroke-width=".6"/><rect x="165" y="14.2" width="3" height="2.9" fill="#fff"/></g>
<text x="175" y="14.9" font-family='"Liberation Sans", "Noto Sans CJK SC", sans-serif' font-size="11.2" font-weight="500" letter-spacing="1" fill="#000">自动交易</text>
<rect x="230" y="0" width="1" height="24" fill="#a0a0a0" shape-rendering="crispEdges"/>
<rect x="234" y="2" width="3" height="1" fill="#a0a0a0" shape-rendering="crispEdges"/>
<rect x="234" y="4" width="3" height="1" fill="#a0a0a0" shape-rendering="crispEdges"/>
<rect x="234" y="6" width="3" height="1" fill="#a0a0a0" shape-rendering="crispEdges"/>
<rect x="234" y="8" width="3" height="1" fill="#a0a0a0" shape-rendering="crispEdges"/>
<rect x="234" y="10" width="3" height="1" fill="#a0a0a0" shape-rendering="crispEdges"/>
<rect x="234" y="12" width="3" height="1" fill="#a0a0a0" shape-rendering="crispEdges"/>
<rect x="234" y="14" width="3" height="1" fill="#a0a0a0" shape-rendering="crispEdges"/>
<rect x="234" y="16" width="3" height="1" fill="#a0a0a0" shape-rendering="crispEdges"/>
<rect x="234" y="18" width="3" height="1" fill="#a0a0a0" shape-rendering="crispEdges"/>
<rect x="234" y="20" width="3" height="1" fill="#a0a0a0" shape-rendering="crispEdges"/>
<g fill="#555"><rect x="248" y="7" width="1.2" height="13" shape-rendering="crispEdges"/><rect x="246" y="17" width="12" height="1.2" shape-rendering="crispEdges"/><path d="M248.6 5.6L250.6 8.6H246.6Z"/><path d="M260 17.6L257 15.6V19.6Z"/></g>
<path d="M254.6 7V15.8M254.6 8.4H257.4M251.8 14.4H254.6" stroke="#0a8a0a" stroke-width="1.3" fill="none"/>
<g shape-rendering="crispEdges"><rect x="268" y="0" width="26" height="23" fill="#f8f8f8"/><rect x="268" y="0" width="25" height="1" fill="#a0a0a0"/><rect x="268" y="0" width="1" height="22" fill="#a0a0a0"/><rect x="268" y="22" width="26" height="1" fill="#fff"/><rect x="293" y="0" width="1" height="23" fill="#fff"/></g>
<g fill="#555"><rect x="276" y="7" width="1.2" height="13" shape-rendering="crispEdges"/><rect x="274" y="17" width="12" height="1.2" shape-rendering="crispEdges"/><path d="M276.6 5.6L278.6 8.6H274.6Z"/><path d="M288 17.6L285 15.6V19.6Z"/></g>
<path d="M282.6 4V15.8" stroke="#0a8a0a" stroke-width="1.3"/><rect x="280.5" y="6.5" width="4.4" height="7.2" fill="#6fe86f" stroke="#0a8a0a" stroke-width="1"/>
<g fill="#555"><rect x="304" y="7" width="1.2" height="13" shape-rendering="crispEdges"/><rect x="302" y="17" width="12" height="1.2" shape-rendering="crispEdges"/><path d="M304.6 5.6L306.6 8.6H302.6Z"/><path d="M316 17.6L313 15.6V19.6Z"/></g>
<path d="M303.2 14.6C306 12.6 307.4 9.4 309.2 9.4C311 9.4 312.6 12.2 314.8 12.8" stroke="#2a9a2a" stroke-width="1.2" fill="none"/>
<rect x="325" y="1" width="1" height="21" fill="#a0a0a0" shape-rendering="crispEdges"/>
<g><path d="M343.2 13.4L349.1 19.2" stroke="#b07c10" stroke-width="3.2"/><path d="M343.40000000000003 13.6L348.7 18.8" stroke="#f6e04a" stroke-width="1.5"/><circle cx="339.8" cy="10" r="5.5" fill="url(#gLens)" stroke="#2a6fb8" stroke-width="1.1"/><path d="M336.6 10H343.0M339.8 6.8V13.2" stroke="#3d86ad" stroke-width="1.8"/></g>
<g><path d="M371.4 13.4L377.3 19.2" stroke="#b07c10" stroke-width="3.2"/><path d="M371.6 13.6L376.9 18.8" stroke="#f6e04a" stroke-width="1.5"/><circle cx="368" cy="10" r="5.5" fill="url(#gLens)" stroke="#2a6fb8" stroke-width="1.1"/><path d="M364.8 10H371.2" stroke="#3d86ad" stroke-width="1.8"/></g>
<g><rect x="390.1" y="4.2" width="7.8" height="7.7" rx=".4" fill="#2f9a10"/><path d="M391.3 7.300000000000001H396.8V10.7H395.70000000000005V10.0H392.40000000000003V10.7H391.3Z" fill="#fff"/><rect x="392.3" y="8.1" width="3.6" height=".9" fill="#a4d890"/><rect x="391.1" y="5.2" width="1" height=".9" fill="#fff" opacity=".85"/></g>
<g><rect x="398.1" y="4.2" width="7.8" height="7.7" rx=".4" fill="#1a48c8"/><path d="M399.3 7.300000000000001H404.8V10.7H403.70000000000005V10.0H400.40000000000003V10.7H399.3Z" fill="#fff"/><rect x="400.3" y="8.1" width="3.6" height=".9" fill="#8fa8ee"/><rect x="399.1" y="5.2" width="1" height=".9" fill="#fff" opacity=".85"/></g>
<g><rect x="390.1" y="12.1" width="7.8" height="7.7" rx=".4" fill="#1a48c8"/><path d="M391.3 15.2H396.8V18.6H395.70000000000005V17.9H392.40000000000003V18.6H391.3Z" fill="#fff"/><rect x="392.3" y="16.0" width="3.6" height=".9" fill="#8fa8ee"/><rect x="391.1" y="13.1" width="1" height=".9" fill="#fff" opacity=".85"/></g>
<g><rect x="398.1" y="12.1" width="7.8" height="7.7" rx=".4" fill="#2f9a10"/><path d="M399.3 15.2H404.8V18.6H403.70000000000005V17.9H400.40000000000003V18.6H399.3Z" fill="#fff"/><rect x="400.3" y="16.0" width="3.6" height=".9" fill="#a4d890"/><rect x="399.1" y="13.1" width="1" height=".9" fill="#fff" opacity=".85"/></g>
<rect x="415" y="1" width="1" height="21" fill="#a0a0a0" shape-rendering="crispEdges"/>
<g shape-rendering="crispEdges"><rect x="420" y="0" width="26" height="23" fill="#f8f8f8"/><rect x="420" y="0" width="25" height="1" fill="#a0a0a0"/><rect x="420" y="0" width="1" height="22" fill="#a0a0a0"/><rect x="420" y="22" width="26" height="1" fill="#fff"/><rect x="445" y="0" width="1" height="23" fill="#fff"/></g>
<g fill="#555"><rect x="428" y="7" width="1.2" height="13" shape-rendering="crispEdges"/><rect x="426" y="17" width="12" height="1.2" shape-rendering="crispEdges"/><path d="M428.6 5.6L430.6 8.6H426.6Z"/><path d="M440 17.6L437 15.6V19.6Z"/></g>
<path d="M433.2 8.2L437.2 11.4L433.2 14.6Z" fill="#3dc23d" stroke="#0a8a0a" stroke-width=".7"/>
<g shape-rendering="crispEdges"><rect x="448" y="0" width="26" height="23" fill="#f8f8f8"/><rect x="448" y="0" width="25" height="1" fill="#a0a0a0"/><rect x="448" y="0" width="1" height="22" fill="#a0a0a0"/><rect x="448" y="22" width="26" height="1" fill="#fff"/><rect x="473" y="0" width="1" height="23" fill="#fff"/></g>
<g fill="#555"><rect x="456" y="7" width="1.2" height="13" shape-rendering="crispEdges"/><rect x="454" y="17" width="12" height="1.2" shape-rendering="crispEdges"/><path d="M456.6 5.6L458.6 8.6H454.6Z"/><path d="M468 17.6L465 15.6V19.6Z"/></g>
<path d="M462.6 6V16.4" stroke="#1c5fa8" stroke-width="1.3"/><path d="M463.6 11.5L466.2 9.3V10.9H468V12.1H466.2V13.7Z" fill="#d04010"/>
<rect x="477" y="1" width="1" height="21" fill="#a0a0a0" shape-rendering="crispEdges"/>
<g><path d="M487.8 4.8H495L498.4 8.2V17.2H487.8Z" fill="#fdfdfd" stroke="#8a8a8a" stroke-width="1"/><path d="M495 4.8V8.2H498.4" fill="#e4e4e4" stroke="#8a8a8a" stroke-width=".8"/><path d="M492.6 7.6C490.6 7.6 490.8 9.4 490.8 10.4V14.6" stroke="#6a6a6a" stroke-width="1" fill="none"/><path d="M489.6 10.6H492.4" stroke="#6a6a6a" stroke-width="1"/><path d="M495.3 11H498.8V14.2H502.5V17.7H498.8V21.6H495.3V17.7H491.6V14.2H495.3Z" fill="url(#gGreen)" stroke="#0a8a12" stroke-width=".9" stroke-linejoin="round"/></g>
<path d="M509 10.7H514.6L511.8 14.2Z" fill="#000"/>
<g><circle cx="532.9" cy="11.9" r="6.9" fill="url(#gClock)" stroke="url(#gRing)" stroke-width="2.5"/><circle cx="532.9" cy="11.9" r="8" fill="none" stroke="#0d49a4" stroke-width=".5"/><path d="M532.7 8.2V12H535.6" stroke="#222" stroke-width="1.1" fill="none"/><g fill="#8a8a8a"><circle cx="532.9" cy="7" r=".45"/><circle cx="532.9" cy="16.8" r=".45"/><circle cx="528" cy="11.9" r=".45"/><circle cx="537.8" cy="11.9" r=".45"/><circle cx="530.4" cy="7.7" r=".35"/><circle cx="535.4" cy="7.7" r=".35"/><circle cx="528.7" cy="9.4" r=".35"/><circle cx="537.1" cy="9.4" r=".35"/><circle cx="528.7" cy="14.4" r=".35"/><circle cx="537.1" cy="14.4" r=".35"/><circle cx="530.4" cy="16.1" r=".35"/><circle cx="535.4" cy="16.1" r=".35"/></g></g>
<path d="M548 10.7H553.6L550.8 14.2Z" fill="#000"/>
<g><rect x="564.5" y="5.3" width="15.2" height="13" fill="#fff" stroke="#2a64c0" stroke-width="1"/><rect x="565" y="5.8" width="14.2" height="1.8" fill="#5a9ae6"/><path d="M565 12.9H579.2" stroke="#2a64c0" stroke-width=".9"/><path d="M566.4 11.2H568.4L570 9.8H572L573.4 10.6H575.4L576.8 9.4H578" stroke="#a21c06" stroke-width="1" fill="none"/><path d="M566.8 16.2H568.6L570 15.4L571.4 16.2H572.8L574.8 14.2L576 14.6L577.8 16.4" stroke="#12902a" stroke-width="1" fill="none"/></g>
<path d="M587 10.7H592.6L589.8 14.2Z" fill="#000"/>
<rect x="598" y="0" width="1" height="24" fill="#a0a0a0" shape-rendering="crispEdges"/>
<rect x="602" y="2" width="3" height="1" fill="#a0a0a0" shape-rendering="crispEdges"/>
<rect x="602" y="4" width="3" height="1" fill="#a0a0a0" shape-rendering="crispEdges"/>
<rect x="602" y="6" width="3" height="1" fill="#a0a0a0" shape-rendering="crispEdges"/>
<rect x="602" y="8" width="3" height="1" fill="#a0a0a0" shape-rendering="crispEdges"/>
<rect x="602" y="10" width="3" height="1" fill="#a0a0a0" shape-rendering="crispEdges"/>
<rect x="602" y="12" width="3" height="1" fill="#a0a0a0" shape-rendering="crispEdges"/>
<rect x="602" y="14" width="3" height="1" fill="#a0a0a0" shape-rendering="crispEdges"/>
<rect x="602" y="16" width="3" height="1" fill="#a0a0a0" shape-rendering="crispEdges"/>
<rect x="602" y="18" width="3" height="1" fill="#a0a0a0" shape-rendering="crispEdges"/>
<rect x="602" y="20" width="3" height="1" fill="#a0a0a0" shape-rendering="crispEdges"/>
<g shape-rendering="crispEdges"><rect x="608" y="0" width="26" height="23" fill="#f8f8f8"/><rect x="608" y="0" width="25" height="1" fill="#a0a0a0"/><rect x="608" y="0" width="1" height="22" fill="#a0a0a0"/><rect x="608" y="22" width="26" height="1" fill="#fff"/><rect x="633" y="0" width="1" height="23" fill="#fff"/></g>
<path d="M616.2 5.2V17L619 14.4L621.2 19L623 18.2L620.8 13.6L624.4 13.4Z" fill="#4a4a4a"/>
<g shape-rendering="crispEdges" fill="#555"><rect x="648" y="5" width="1" height="6"/><rect x="648" y="14" width="1" height="6"/><rect x="641" y="12" width="6" height="1"/><rect x="650" y="12" width="6" height="1"/><rect x="648" y="12" width="1" height="1"/></g>
<rect x="665" y="1" width="1" height="21" fill="#a0a0a0" shape-rendering="crispEdges"/>
<g shape-rendering="crispEdges" fill="#555"><rect x="682" y="6" width="1" height="13"/><rect x="705" y="12" width="12" height="1"/></g>
<path d="M733 19L745.2 6.8" stroke="#555" stroke-width="1.1"/>
<g stroke="#4a4a4a" stroke-width="1" fill="none"><path d="M758.6 13.6L767.2 5.8M763.8 19.2L773.2 10"/><path d="M760.2 17.8L761.6 11.6L763.4 15.6L765 9L767 13L768.6 6.4L770.4 10.4L770.8 4.2" stroke-width="1.1"/></g>
<text x="769.6" y="20.6" font-family='"Liberation Sans", sans-serif' font-size="6.5" font-weight="bold" fill="#444">E</text>
<g stroke="#555" stroke-width="1" stroke-dasharray="1 1" shape-rendering="crispEdges"><path d="M788 5.5H802M788 8.5H802M788 12.5H802M788 16.5H797"/></g>
<text x="797.8" y="20.6" font-family='"Liberation Sans", sans-serif' font-size="6.5" font-weight="bold" fill="#444">F</text>
<text x="819" y="17.1" font-family='"Liberation Sans", sans-serif' font-size="12.4" fill="#555" stroke="#555" stroke-width=".25" textLength="7.6" lengthAdjust="spacingAndGlyphs">A</text>
<rect x="845" y="5.5" width="12" height="13" fill="none" stroke="#555" stroke-width="1" stroke-dasharray="1 1" shape-rendering="crispEdges"/>
<text x="851" y="17" font-family='"Liberation Sans", sans-serif' font-size="11" font-weight="bold" fill="#555" text-anchor="middle">T</text>
<g fill="#444"><path d="M876 6.2L879.6 9.6L876 11.2L872.4 9.6Z"/><path d="M882.4 18.6L878.8 15.2L882.4 13.6L886 15.2Z"/><path d="M874.2 13.2L876 15L881.4 9.8" stroke="#444" stroke-width="1.1" fill="none"/></g>
<path d="M892.5 10.7H898.1L895.3 14.2Z" fill="#000"/>
<rect x="904" y="0" width="1" height="24" fill="#a0a0a0" shape-rendering="crispEdges"/>
<rect x="908" y="2" width="3" height="1" fill="#a0a0a0" shape-rendering="crispEdges"/>
<rect x="908" y="4" width="3" height="1" fill="#a0a0a0" shape-rendering="crispEdges"/>
<rect x="908" y="6" width="3" height="1" fill="#a0a0a0" shape-rendering="crispEdges"/>
<rect x="908" y="8" width="3" height="1" fill="#a0a0a0" shape-rendering="crispEdges"/>
<rect x="908" y="10" width="3" height="1" fill="#a0a0a0" shape-rendering="crispEdges"/>
<rect x="908" y="12" width="3" height="1" fill="#a0a0a0" shape-rendering="crispEdges"/>
<rect x="908" y="14" width="3" height="1" fill="#a0a0a0" shape-rendering="crispEdges"/>
<rect x="908" y="16" width="3" height="1" fill="#a0a0a0" shape-rendering="crispEdges"/>
<rect x="908" y="18" width="3" height="1" fill="#a0a0a0" shape-rendering="crispEdges"/>
<rect x="908" y="20" width="3" height="1" fill="#a0a0a0" shape-rendering="crispEdges"/>
<g shape-rendering="crispEdges"><rect x="1054" y="0" width="26" height="23" fill="#f8f8f8"/><rect x="1054" y="0" width="25" height="1" fill="#a0a0a0"/><rect x="1054" y="0" width="1" height="22" fill="#a0a0a0"/><rect x="1054" y="22" width="26" height="1" fill="#fff"/><rect x="1079" y="0" width="1" height="23" fill="#fff"/></g>
<g font-family='"Liberation Sans", sans-serif' font-size="10.2" text-rendering="geometricPrecision" fill="#3a3a3a" text-anchor="middle">
<text transform="translate(926 16) scale(.905 1)">M1</text>
<text transform="translate(954 16) scale(.905 1)">M5</text>
<text transform="translate(982.5 16) scale(.905 1)">M15</text>
<text transform="translate(1010.5 16) scale(.905 1)">M30</text>
<text transform="translate(1038.2 16) scale(.905 1)">H1</text>
<text transform="translate(1065.8 16) scale(.905 1)">H4</text>
<text transform="translate(1094.3 16) scale(.905 1)">D1</text>
<text transform="translate(1123 16) scale(.905 1)">W1</text>
<text transform="translate(1150 16) scale(.905 1)">MN</text>
</g>
<rect x="1165" y="1" width="1" height="21" fill="#a0a0a0" shape-rendering="crispEdges"/>
<g><path d="M1633 12L1627.8 16.8" stroke="#2456cf" stroke-width="2.2" stroke-linecap="round"/><circle cx="1635.6" cy="9.3" r="3.9" fill="#f4f6fb" stroke="#2456cf" stroke-width="1.3"/></g>
<g><path d="M1653 13.5C1653 9 1666 9 1666 13.5C1666 17.5 1660 18.4 1657.6 18L1655.4 20.6L1655.6 17.4C1654 16.6 1653 15.4 1653 13.5Z" fill="#e4e6ee" stroke="#b4b7c0" stroke-width=".8"/><circle cx="1666.6" cy="9.3" r="8.1" fill="url(#gRed)"/>
<text x="1666.4" y="14.3" font-family='"NanumGothic", "Liberation Sans", sans-serif' font-size="14" fill="#fff" text-anchor="middle">1</text></g>
</svg>
</body>
</html>
